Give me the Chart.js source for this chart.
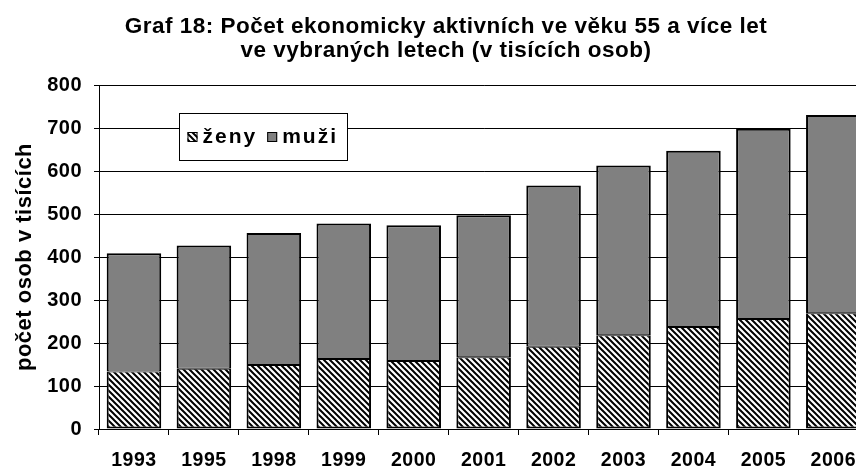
<!DOCTYPE html>
<html>
<head>
<meta charset="utf-8">
<script src="https://cdn.jsdelivr.net/npm/chart.js@4.4.1/dist/chart.umd.min.js"></script>
<style>
html, body { margin: 0; padding: 0; background: #fff; overflow: hidden; }
#wrap { width: 870px; height: 467px; }
</style>
</head>
<body>
<div id="wrap"><canvas id="grafChart" width="870" height="467"></canvas></div>
<script>
const roky = ['1993', '1995', '1998', '1999', '2000', '2001', '2002', '2003', '2004', '2005', '2006'];
const zeny = [134, 140, 149, 163, 158, 167, 191, 218, 237, 256, 269];
const muzi = [275, 287, 307, 315, 316, 330, 375, 395, 410, 442, 461];
const yTicks = [0, 100, 200, 300, 400, 500, 600, 700, 800];
const nadpis = ['Graf 18: Počet ekonomicky aktivních ve věku 55 a více let', 've vybraných letech (v tisících osob)'];

const FONT = '"Liberation Sans", Arial, sans-serif';

function makeHatch() {
    const c = document.createElement('canvas');
    c.width = 6;
    c.height = 6;
    const g = c.getContext('2d');
    g.fillStyle = '#fff';
    g.fillRect(0, 0, 6, 6);
    g.strokeStyle = '#000';
    g.lineWidth = 2;
    g.beginPath();
    g.moveTo(-1, -1); g.lineTo(7, 7);
    g.moveTo(-1, 5); g.lineTo(1, 7);
    g.moveTo(5, -1); g.lineTo(7, 1);
    g.stroke();
    return g.createPattern(c, 'repeat');
}

const ctx = document.getElementById('grafChart');
const hatch = makeHatch();

// text v originálu je trochu prostrkaný
const spacing = {
    id: 'spacing',
    beforeLayout(chart) { chart.ctx.letterSpacing = '0.5px'; },
    beforeDraw(chart) { chart.ctx.letterSpacing = '0.5px'; }
};

// nadpis (dva řádky), mírně vpravo od středu jako v originálu
const nadpisPlugin = {
    id: 'nadpis',
    afterDraw(chart) {
        const c = chart.ctx;
        c.save();
        c.letterSpacing = '0.5px';
        c.fillStyle = '#000';
        c.font = 'bold 22.5px ' + FONT;
        c.textAlign = 'center';
        c.textBaseline = 'alphabetic';
        c.fillText(nadpis[0], 446, 33);
        c.fillText(nadpis[1], 446, 57);
        c.restore();
    }
};

// legenda v rámečku uvnitř grafu
const boxLegend = {
    id: 'boxLegend',
    afterDraw(chart) {
        const c = chart.ctx;
        const x = 179.5, y = 113.5, w = 168, h = 47;
        c.save();
        c.fillStyle = '#fff';
        c.fillRect(x, y, w, h);
        c.strokeStyle = '#000';
        c.lineWidth = 1;
        c.strokeRect(x, y, w, h);
        c.font = 'bold 21px ' + FONT;
        c.letterSpacing = '2px';
        c.textBaseline = 'middle';
        let cx = x + 8;
        const cy = y + h / 2;
        chart.data.datasets.forEach(function(ds) {
            c.fillStyle = ds.backgroundColor;
            c.fillRect(cx, cy - 5, 10, 10);
            c.strokeStyle = '#000';
            c.strokeRect(cx + 0.5, cy - 4.5, 9, 9);
            c.fillStyle = '#000';
            c.fillText(ds.label, cx + 15, cy);
            cx += 15 + c.measureText(ds.label).width + 10;
        });
        c.restore();
    }
};

new Chart(ctx, {
    type: 'bar',
    data: {
        labels: roky,
        datasets: [{
            label: 'ženy',
            data: zeny,
            backgroundColor: hatch,
            borderColor: '#000',
            borderWidth: { top: 1, left: 2, right: 2, bottom: 2 },
            borderSkipped: false
        }, {
            label: 'muži',
            data: muzi,
            backgroundColor: '#808080',
            borderColor: '#000',
            borderWidth: { top: 2, left: 2, right: 2, bottom: 1 },
            borderSkipped: false
        }]
    },
    options: {
        responsive: false,
        animation: false,
        layout: { padding: { top: 85 } },
        categoryPercentage: 1,
        barPercentage: 0.78,
        plugins: {
            legend: { display: false },
            tooltip: { enabled: false },
            title: { display: false }
        },
        scales: {
            x: {
                stacked: true,
                afterFit: function(s) { s.height = 38; },
                grid: {
                    offset: true,
                    drawOnChartArea: false,
                    color: '#000',
                    tickLength: 6
                },
                border: { color: '#000', width: 1 },
                ticks: {
                    color: '#000',
                    font: { family: FONT, size: 19.5, weight: 'bold' },
                    padding: 14,
                    maxRotation: 0
                }
            },
            y: {
                stacked: true,
                min: 0,
                max: 800,
                afterFit: function(s) { s.width = 99; },
                afterBuildTicks: function(s) { s.ticks = yTicks.map(function(v) { return { value: v }; }); },
                grid: { color: '#000', lineWidth: 1, tickLength: 5 },
                border: { color: '#000', width: 1 },
                ticks: {
                    color: '#000',
                    font: { family: FONT, size: 20, weight: 'bold' },
                    padding: 12
                },
                title: {
                    display: true,
                    text: 'počet osob v tisících',
                    color: '#000',
                    font: { family: FONT, size: 22, weight: 'bold' },
                    padding: { top: 12, bottom: 0 }
                }
            }
        }
    },
    plugins: [spacing, nadpisPlugin, boxLegend]
});
</script>
</body>
</html>
